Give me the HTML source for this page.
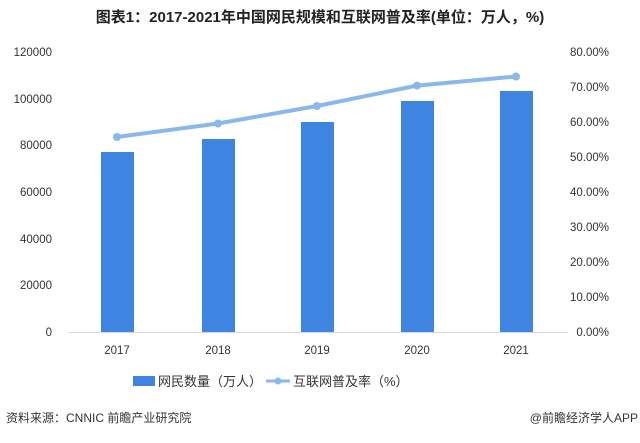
<!DOCTYPE html>
<html><head><meta charset="utf-8"><style>
body{margin:0;background:#fff;}
text{font-family:"Liberation Sans","Noto Sans CJK SC",sans-serif;}
</style></head><body>
<svg width="640" height="438" xmlns="http://www.w3.org/2000/svg">
<rect width="640" height="438" fill="#fff"/>
<text x="320" y="22" text-anchor="middle" font-size="15" font-weight="bold" fill="#222">图表1：2017-2021年中国网民规模和互联网普及率(单位：万人，%)</text>
<g font-size="11.5" fill="#333" text-anchor="end">
<text x="52" y="56">120000</text><text x="52" y="103">100000</text><text x="52" y="149">80000</text><text x="52" y="196">60000</text><text x="52" y="243">40000</text><text x="52" y="289">20000</text><text x="52" y="336">0</text>
</g>
<g font-size="11.5" fill="#333" text-anchor="end">
<text x="609" y="56">80.00%</text><text x="609" y="91">70.00%</text><text x="609" y="126">60.00%</text><text x="609" y="161">50.00%</text><text x="609" y="196">40.00%</text><text x="609" y="231">30.00%</text><text x="609" y="266">20.00%</text><text x="609" y="301">10.00%</text><text x="609" y="336">0.00%</text>
</g>
<line x1="68" y1="332.5" x2="568" y2="332.5" stroke="#d9d9d9" stroke-width="1"/>
<g fill="#3d85e0">
<rect x="101" y="152" width="33" height="180"/>
<rect x="202" y="139" width="33" height="193"/>
<rect x="301" y="122" width="33" height="210"/>
<rect x="401" y="101" width="33" height="231"/>
<rect x="500" y="91" width="33" height="241"/>
</g>
<polyline points="117,137 218,123.5 317,106 417,85.6 516,76.5" fill="none" stroke="#8ab8ea" stroke-width="4" stroke-linejoin="round"/>
<g fill="#8ab8ea"><circle cx="117" cy="137" r="4"/><circle cx="218" cy="123.5" r="4"/><circle cx="317" cy="106" r="4"/><circle cx="417" cy="85.6" r="4"/><circle cx="516" cy="76.5" r="4"/></g>
<g font-size="11.5" fill="#333" text-anchor="middle">
<text x="117" y="354">2017</text><text x="218" y="354">2018</text><text x="317" y="354">2019</text><text x="417" y="354">2020</text><text x="516" y="354">2021</text>
</g>
<rect x="133" y="376" width="22" height="10" fill="#3d85e0"/>
<text x="158" y="386" font-size="13" fill="#333">网民数量（万人）</text>
<line x1="266" y1="381" x2="290" y2="381" stroke="#8ab8ea" stroke-width="3"/>
<circle cx="278" cy="381" r="3.5" fill="#8ab8ea"/>
<text x="293" y="386" font-size="13" fill="#333">互联网普及率（%）</text>
<text x="6" y="422" font-size="12" fill="#333">资料来源：CNNIC 前瞻产业研究院</text>
<text x="638" y="422" font-size="12" fill="#333" text-anchor="end">@前瞻经济学人APP</text>
</svg>
</body></html>
